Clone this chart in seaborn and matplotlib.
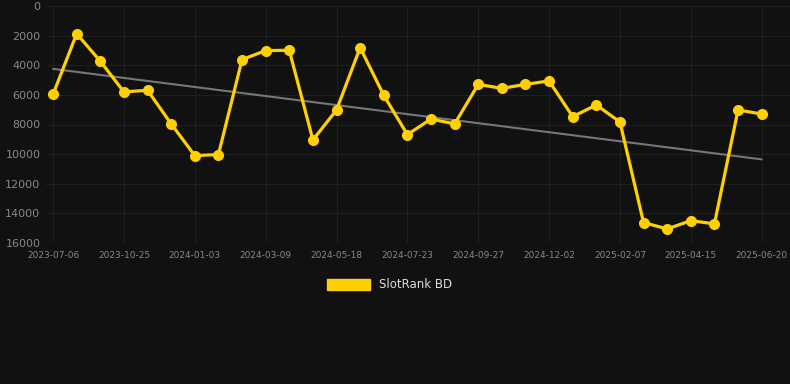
import numpy as np
import pandas as pd
import seaborn as sns
import matplotlib.pyplot as plt
from matplotlib.patches import Patch

# rank values (lower is better, axis inverted)
ranks = [5960, 1870, 3730, 5800, 5690, 7960, 10100, 10030, 3620, 3010, 2990,
         9040, 7020, 2810, 6030, 8680, 7630, 7960, 5290, 5560, 5290, 5060,
         7470, 6680, 7830, 14620, 15050, 14490, 14710, 7020, 7290]
tick_labels = ['2023-07-06', '2023-10-25', '2024-01-03', '2024-03-09', '2024-05-18',
               '2024-07-23', '2024-09-27', '2024-12-02', '2025-02-07', '2025-04-15',
               '2025-06-20']
series_name = 'SlotRank BD'

df = pd.DataFrame({'idx': np.arange(len(ranks)), 'rank': ranks})

bg = '#111111'
yellow = '#FFD000'

sns.set_style('dark')
plt.rcParams['font.family'] = ['DejaVu Sans']

fig = plt.figure(figsize=(7.9, 3.84), dpi=100, facecolor=bg)
ax = fig.add_axes([46 / 790, 1 - 243 / 384, 1 - 46 / 790, 237 / 384])
ax.set_facecolor(bg)

# trend line (least squares over the series)
slope, icpt = np.polyfit(df['idx'], df['rank'], 1)
df['trend'] = icpt + slope * df['idx']
sns.lineplot(data=df, x='idx', y='trend', color='#777777', linewidth=1.5, ax=ax)

sns.lineplot(data=df, x='idx', y='rank', color=yellow, linewidth=2.3,
             marker='o', markersize=7.2, markeredgecolor=yellow, ax=ax)

ax.set_ylim(16000, 0)
ax.set_xlim(-0.3, 31.2)
ax.set_yticks(range(0, 16001, 2000))
ax.set_xticks(range(0, len(ranks), 3))
ax.set_xticklabels(tick_labels)
ax.tick_params(axis='y', colors='#888888', labelsize=8, length=0, pad=4)
ax.tick_params(axis='x', colors='#888888', labelsize=6.5, length=0, pad=6)
ax.grid(True, color='#1f1f1f', linewidth=0.8)
for s in ax.spines.values():
    s.set_visible(False)
ax.set_xlabel('')
ax.set_ylabel('')

fig.legend(handles=[Patch(facecolor=yellow, edgecolor=yellow, label=series_name)],
           loc='center', bbox_to_anchor=(390 / 790, 1 - 285 / 384), frameon=False,
           handlelength=3.6, handleheight=1.1, fontsize=8.5, labelcolor='#dddddd')

fig.savefig('out.png', dpi=100, facecolor=bg)
